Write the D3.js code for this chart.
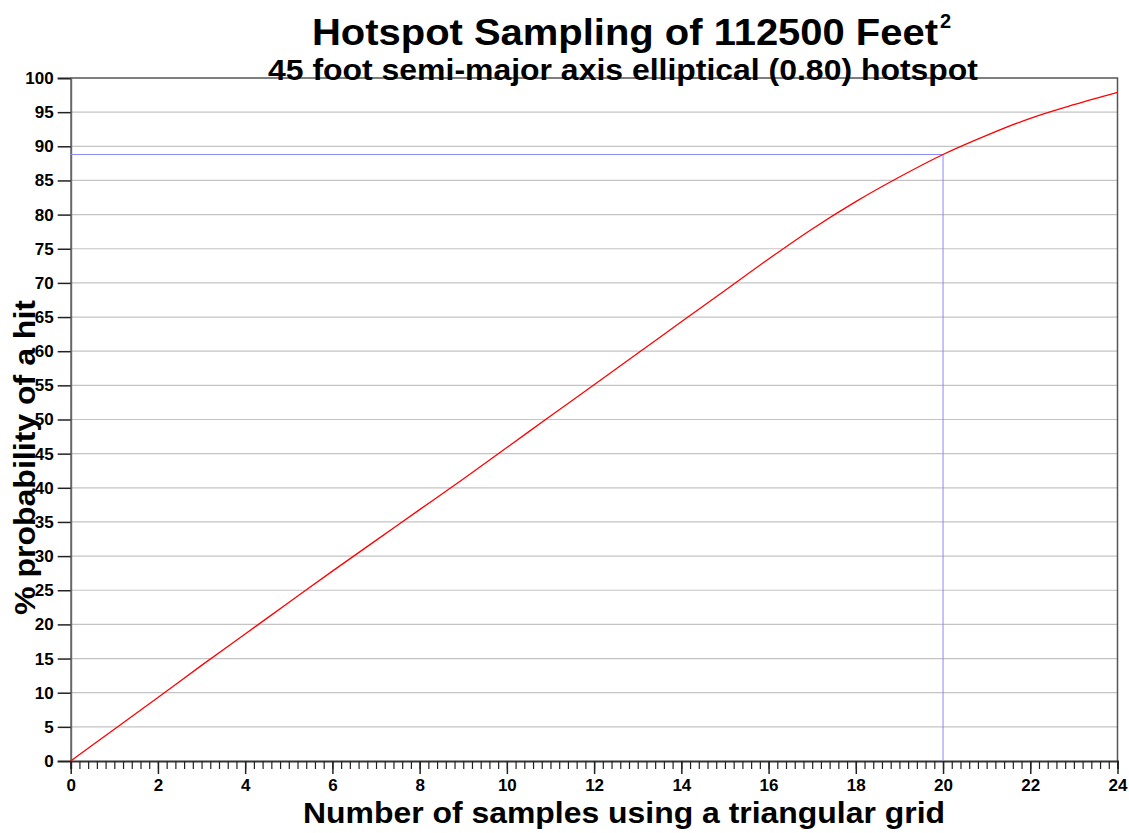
<!DOCTYPE html>
<html>
<head>
<meta charset="utf-8">
<script src="https://cdn.jsdelivr.net/npm/d3@7"></script>
<style>
  body { margin: 0; background: #fff; }
  text { font-family: "Liberation Sans", Arial, sans-serif; font-weight: bold; fill: #000; }
</style>
</head>
<body>
<div id="chart"></div>
<script>
// values
var samples = [0, 1, 2, 3, 4, 5, 6, 7, 8, 9, 10, 11, 12, 13, 14, 15, 16, 17, 18, 19, 20, 21, 22, 23, 24];
var probability = [0, 4.65, 9.3, 14.0, 18.6, 23.2, 27.8, 32.3, 36.8, 41.3, 45.9, 50.5, 55.1, 59.7, 64.3, 68.9, 73.5, 77.9, 81.9, 85.5, 88.8, 91.6, 94.1, 96.1, 97.9];
var markSamples = 20;
var markProbability = 88.8;
var yTicks = d3.range(0, 101, 5);
var xLabelTicks = d3.range(0, 25, 2);
var xMinorTicks = d3.range(0, 120.5, 1).map(function (d) { return d / 5; });

var svgWidth = 1129, svgHeight = 833;
var margin = { top: 78, right: 11.5, bottom: 72, left: 70.7 };
var width = svgWidth - margin.left - margin.right;
var height = svgHeight - margin.top - margin.bottom;

var svg = d3.select("#chart").append("svg")
    .attr("width", svgWidth)
    .attr("height", svgHeight);

var chartGroup = svg.append("g")
    .attr("transform", `translate(${margin.left}, ${margin.top})`);

var x = d3.scaleLinear().domain([0, 24]).range([0, width]);
var y = d3.scaleLinear().domain([0, 100]).range([height, 0]);

// horizontal grid lines
chartGroup.append("g")
    .selectAll("line")
    .data(yTicks.filter(d => d > 0 && d < 100))
    .enter()
    .append("line")
    .attr("x1", 0)
    .attr("x2", width)
    .attr("y1", d => y(d))
    .attr("y2", d => y(d))
    .attr("stroke", "#c4c4c4")
    .attr("stroke-width", 1.2);

// frame (top and right)
chartGroup.append("path")
    .attr("d", `M0,${y(100)}H${x(24)}V${y(0)}`)
    .attr("fill", "none")
    .attr("stroke", "#555")
    .attr("stroke-width", 1.5);

// y axis
var yAxis = d3.axisLeft(y).tickValues(yTicks).tickSize(13).tickPadding(4);
var yG = chartGroup.append("g").call(yAxis);
yG.select(".domain").attr("stroke", "#666").attr("stroke-width", 2);
yG.selectAll(".tick line").attr("stroke", "#222").attr("stroke-width", 1.5);
yG.selectAll("text")
    .attr("font-size", 17)
    .attr("font-family", "Liberation Sans, Arial, sans-serif")
    .attr("font-weight", "bold")
    .attr("fill", "#000");

// x axis, minor ticks
var xMinor = d3.axisBottom(x).tickValues(xMinorTicks).tickSize(8).tickFormat("");
var xmG = chartGroup.append("g").attr("transform", `translate(0, ${height})`).call(xMinor);
xmG.select(".domain").attr("stroke", "#333").attr("stroke-width", 2);
xmG.selectAll(".tick line").attr("stroke", "#222").attr("stroke-width", 1.2);

// x axis, labelled ticks
var xAxis = d3.axisBottom(x).tickValues(xLabelTicks).tickSize(13).tickPadding(5);
var xG = chartGroup.append("g").attr("transform", `translate(0, ${height})`).call(xAxis);
xG.select(".domain").remove();
xG.selectAll(".tick line").attr("stroke", "#222").attr("stroke-width", 1.5);
xG.selectAll("text")
    .attr("font-size", 17)
    .attr("font-family", "Liberation Sans, Arial, sans-serif")
    .attr("font-weight", "bold")
    .attr("fill", "#000");

// marker lines at 20 samples
chartGroup.append("path")
    .attr("d", `M0,${y(markProbability)}H${x(markSamples)}V${y(0)}`)
    .attr("fill", "none")
    .attr("stroke", "#8a8aff")
    .attr("stroke-width", 1);

// probability curve
var line = d3.line()
    .x((d, i) => x(samples[i]))
    .y(d => y(d))
    .curve(d3.curveMonotoneX);

chartGroup.append("path")
    .datum(probability)
    .attr("d", line)
    .attr("fill", "none")
    .attr("stroke", "#ff0000")
    .attr("stroke-width", 1.3);

// titles
svg.append("text")
    .attr("x", 312)
    .attr("y", 45)
    .attr("font-size", 37)
    .attr("textLength", 626)
    .attr("lengthAdjust", "spacingAndGlyphs")
    .text("Hotspot Sampling of 112500 Feet");

svg.append("text")
    .attr("x", 940)
    .attr("y", 28)
    .attr("font-size", 20)
    .text("2");

svg.append("text")
    .attr("x", 268)
    .attr("y", 80)
    .attr("font-size", 30)
    .attr("textLength", 710)
    .attr("lengthAdjust", "spacingAndGlyphs")
    .text("45 foot semi-major axis elliptical (0.80) hotspot");

svg.append("text")
    .attr("x", 303)
    .attr("y", 823)
    .attr("font-size", 30)
    .attr("textLength", 642)
    .attr("lengthAdjust", "spacingAndGlyphs")
    .text("Number of samples using a triangular grid");

svg.append("text")
    .attr("transform", "translate(35, 615) rotate(-90)")
    .attr("x", 0)
    .attr("y", 0)
    .attr("font-size", 30)
    .attr("textLength", 315)
    .attr("lengthAdjust", "spacingAndGlyphs")
    .text("% probability of a hit");
</script>
</body>
</html>
